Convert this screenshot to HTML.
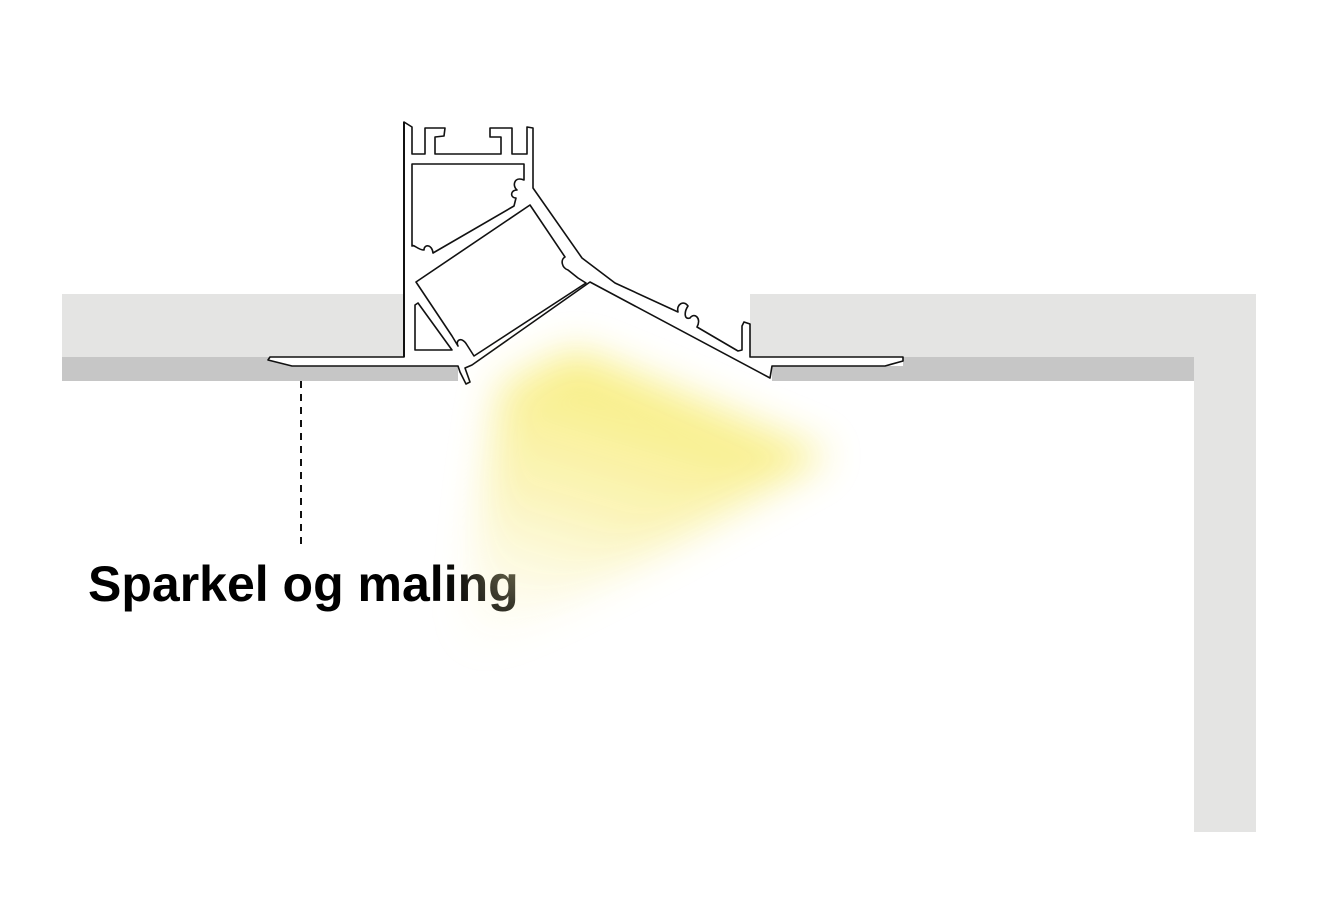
<!DOCTYPE html>
<html><head><meta charset="utf-8"><style>
html,body{margin:0;padding:0;background:#fff;}
svg{display:block;}
</style></head><body>
<svg width="1328" height="916" viewBox="0 0 1328 916" xmlns="http://www.w3.org/2000/svg">
<defs>
<filter id="blur" x="-50%" y="-50%" width="200%" height="200%"><feGaussianBlur stdDeviation="20"/></filter>
<linearGradient id="beam" x1="0.5" y1="0" x2="0.15" y2="1">
<stop offset="0" stop-color="#f7ec6a" stop-opacity="1"/>
<stop offset="0.5" stop-color="#f9f0a0" stop-opacity="0.75"/>
<stop offset="1" stop-color="#fbf6d0" stop-opacity="0"/>
</linearGradient>
</defs>
<rect x="62" y="294" width="342" height="63" fill="#e4e4e3"/>
<rect x="62" y="357" width="396" height="24" fill="#c6c6c6"/>
<rect x="750" y="294" width="506" height="63" fill="#e4e4e3"/>
<rect x="1194" y="294" width="62" height="538" fill="#e4e4e3"/>
<rect x="903" y="357" width="291" height="24" fill="#c6c6c6"/>
<rect x="772" y="366" width="131" height="15" fill="#c6c6c6"/>
<g fill="#fff" stroke="#111" stroke-width="1.6" stroke-linejoin="round">
<path d="M404,122 L404,357 L270,357 L268,360 L292,366 L458,366 L460,372 L466,384 L470,382 L465,368 L472,365 L590,282 L770,378 L772,366 L885,366 L903,361 L903,357 L750,357 L750,324 L744,322 L742,326 L742,350 L738,351 L697,327 C702,318 694,312 690,318 C684,320 684,312 688,306 C684,300 676,304 678,312 L615,283 L582,258 L533,188 L533,128 L527,127 L527,154 L512,154 L512,128 L490,128 L490,137 L501,137 L501,154 L435,154 L435,137 L444,136 L445,128 L425,128 L425,154 L412,154 L412,127 Z"/>
<path d="M412,164 L524,164 L524,180 C514,176 512,186 517,190 C510,190 510,198 516,198 L514,206 L433,253 C432,244 424,244 424,250 C418,250 414,244 412,246 Z"/>
<path d="M418,303 L452,350 L415,350 L415,305 Z"/>
<path d="M416,282 L530,205 L565,257 C560,260 562,268 568,270 L578,278 L586,283 L474,356 L467,345 C462,336 455,340 458,346 L452,336 Z"/>
<path d="M404,357 L404,122" fill="none" stroke-width="2"/>
</g>
<line x1="301" y1="381" x2="301" y2="548" stroke="#111" stroke-width="2" stroke-dasharray="7,6"/>
<text x="88" y="601" font-family="Liberation Sans, Arial, sans-serif" font-weight="bold" font-size="50" fill="#000">Sparkel og maling</text>
<polygon points="500,385 575,350 830,455 458,665" fill="url(#beam)" filter="url(#blur)" opacity="0.95"/>
</svg>
</body></html>
